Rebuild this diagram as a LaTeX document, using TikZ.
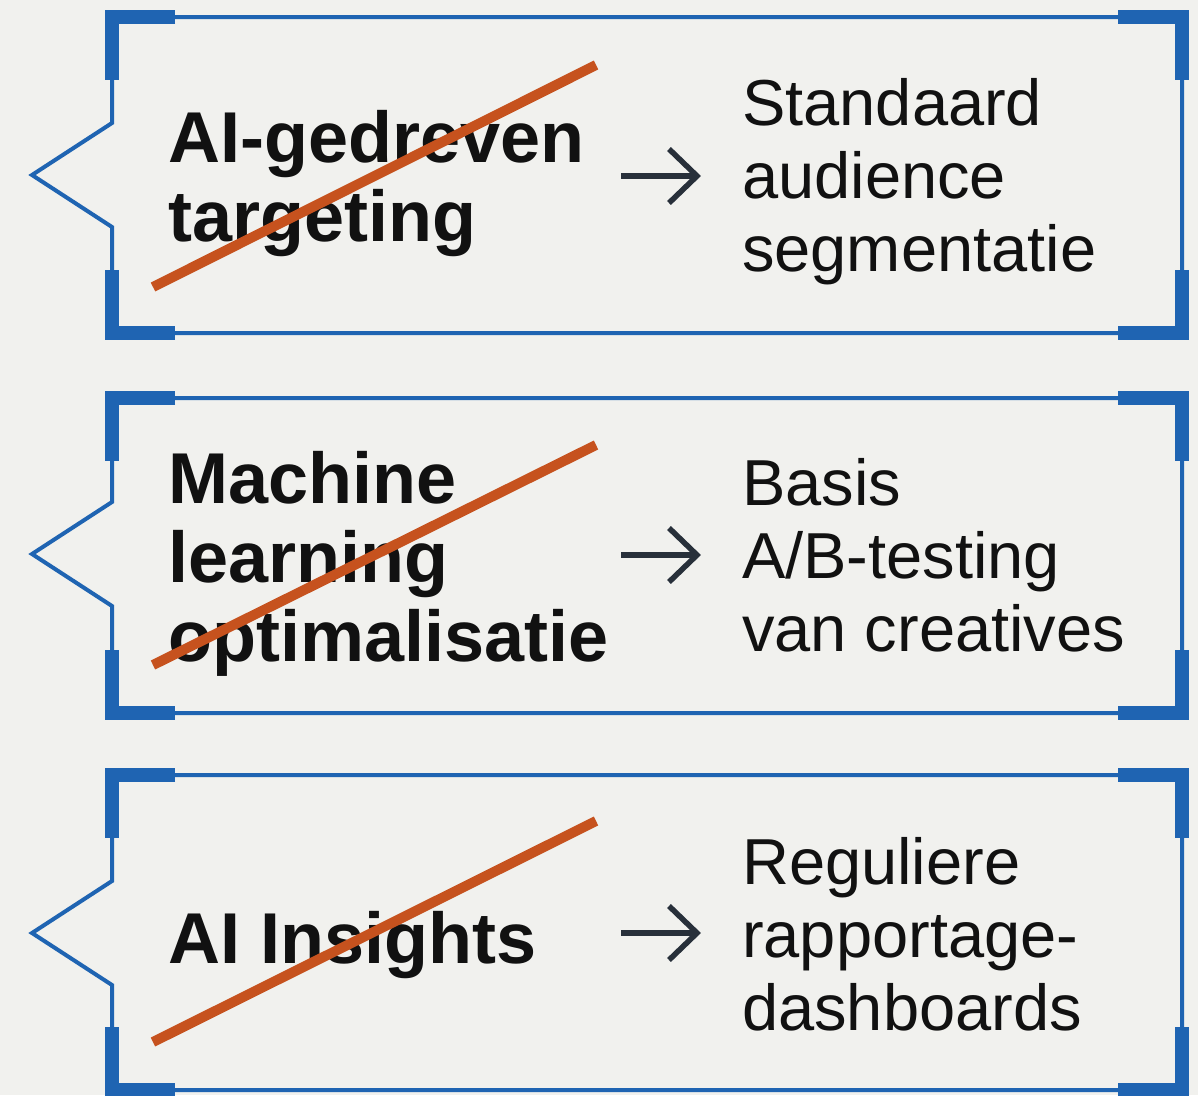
\documentclass[tikz,border=0pt]{standalone}
\usepackage{fontspec}
\setmainfont{Liberation Sans}
\definecolor{bgc}{RGB}{241,241,238}
\definecolor{framec}{RGB}{31,100,178}
\definecolor{strikec}{RGB}{198,82,30}
\definecolor{arrc}{RGB}{40,48,58}
\definecolor{txtc}{RGB}{17,17,17}
\newcommand\calloutbox[3]{%
  \draw[thinframe] (112,#1) -- (1182,#1) -- (1182,#2) -- (112,#2) -- (112,#3+52) -- (32,#3) -- (112,#3-52) -- cycle;
  \draw[bracket] (175,#1) -- (112,#1) -- (112,#1+63);
  \draw[bracket] (1118,#1) -- (1182,#1) -- (1182,#1+63);
  \draw[bracket] (175,#2) -- (112,#2) -- (112,#2-63);
  \draw[bracket] (1118,#2) -- (1182,#2) -- (1182,#2-63);
}
\newcommand\arrowmark[2]{%
  \coordinate (#1s) at (621,#2);
  \coordinate (#1e) at (697,#2);
  \draw[arrline] (#1s) -- ([xshift=-2pt]#1e);
  \draw[arrline] ([shift={(-28,-27)}]#1e) -- (#1e) -- ([shift={(-28,27)}]#1e);
}
\newcommand\lns[1]{\begin{tabular}[t]{@{}l@{}}#1\end{tabular}}
\begin{document}
\begin{tikzpicture}[x=1pt,y=-1pt,
  thinframe/.style={draw=framec, line width=4pt, line join=miter},
  bracket/.style={draw=framec, line width=14pt, line join=miter, line cap=butt},
  strikeline/.style={draw=strikec, line width=10pt, line cap=butt},
  arrline/.style={draw=arrc, line width=5.5pt, line join=miter, line cap=butt},
  lefttext/.style={inner sep=0pt, anchor=base west, text=txtc, font=\fontsize{72}{79}\selectfont\bfseries},
  righttext/.style={inner sep=0pt, anchor=base west, text=txtc, font=\fontsize{65}{73}\selectfont}]
\useasboundingbox (0,0) rectangle (1198,1095);
\fill[bgc] (0,0) rectangle (1198,1095);

% box 1
\calloutbox{17}{333}{175}
\node[lefttext] (l1) at (168,162) {\lns{AI-gedreven\\targeting}};
\node[righttext] (r1) at (742,125) {\lns{Standaard\\audience\\segmentatie}};
\arrowmark{a1}{176}
\coordinate (k1s) at (153,287);
\coordinate (k1e) at (596,65);
\draw[strikeline] (k1s) -- (k1e);

% box 2
\calloutbox{398}{713}{554}
\node[lefttext] (l2) at (168,503) {\lns{Machine\\learning\\optimalisatie}};
\node[righttext] (r2) at (742,505) {\lns{Basis\\A/B-testing\\van creatives}};
\arrowmark{a2}{555}
\coordinate (k2s) at (153,665);
\coordinate (k2e) at (596,445);
\draw[strikeline] (k2s) -- (k2e);

% box 3
\calloutbox{775}{1090}{933}
\node[lefttext] (l3) at (168,963) {\lns{AI Insights}};
\node[righttext] (r3) at (742,884) {\lns{Reguliere\\rapportage-\\dashboards}};
\arrowmark{a3}{933}
\coordinate (k3s) at (153,1042);
\coordinate (k3e) at (596,821);
\draw[strikeline] (k3s) -- (k3e);
\end{tikzpicture}
\end{document}
